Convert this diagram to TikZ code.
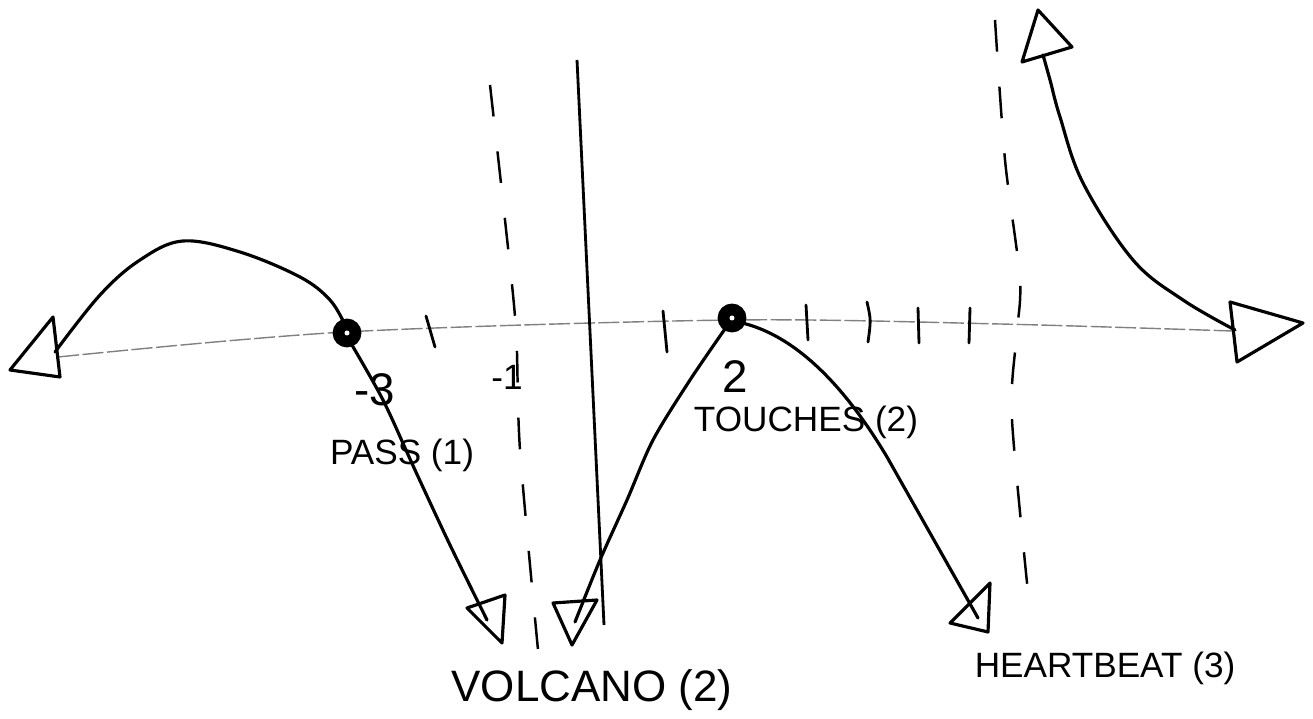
\documentclass[tikz,border=0pt]{standalone}
\usepackage{fontspec}
\setmainfont{Liberation Sans}
\begin{document}
\begin{tikzpicture}[x=0.01cm,y=-0.01cm,
  curve/.style={line width=0.9pt,line join=round,line cap=round},
  head/.style={line width=0.9pt,line join=round},
  asym/.style={line width=0.7pt,dash pattern=on 9pt off 10pt},
  axisline/.style={gray,line width=0.4pt,dash pattern=on 6pt off 1pt},
  tick/.style={line width=0.8pt,line cap=round},
  root/.style={circle,draw,fill=black,line width=1.2pt,inner sep=0pt,minimum size=7pt},
  lbl/.style={font=\fontsize{10}{12}\selectfont}]
\useasboundingbox (0,0) rectangle (1313,719);
% axis
\draw[axisline] plot[smooth] coordinates {(58,357) (345,332) (732,320) (1000,324) (1232,331)};
% ticks
\draw[tick] (426,316) -- (435,347);
\draw[tick] (663,311) -- (667,352);
\draw[tick] (806,305) -- (808,340);
\draw[tick] (867,302) .. controls (871,320) .. (868,342);
\draw[tick] (918,308) -- (919,343);
\draw[tick] (970,308) -- (969,343);
% asymptotes
\draw[asym] plot[smooth] coordinates {(490,85) (505,220) (516,330) (520,450) (538,650)};
\draw[asym] plot[smooth] coordinates {(995,20) (1005,160) (1020,280) (1016,340) (1012,420) (1030,612)};
% solid vertical line
\draw[line width=0.8pt] (577,60) -- (604,625);
% named points on the curves
\coordinate (c1a) at (55,352);
\coordinate (c1b) at (487,620);
\coordinate (c2a) at (575,622);
\coordinate (c2b) at (978,618);
\coordinate (c3a) at (1043,55);
\coordinate (c3b) at (1235,330);
% curve 1
\draw[curve] plot[smooth,tension=0.6] coordinates {(55,352) (100,295) (140,260) (183,241) (240,252) (300,277) (330,300) (345,325)};
\draw[curve] plot[smooth,tension=0.5] coordinates {(349,340) (383,400) (415,470) (450,545) (487,620)};
% curve 2
\draw[curve] plot[smooth,tension=0.5] coordinates {(575,622) (600,560) (627,500) (653,440) (690,380) (727,326)};
\draw[curve] (738,322) .. controls (800,335) and (850,395) .. (887,457) -- (c2b);
% curve 3
\draw[curve] plot[smooth,tension=0.6] coordinates {(1043,55) (1050,80) (1060,117) (1083,183) (1133,260) (1183,300) (1235,330)};
% roots
\node[root] (r1) at (347,333) {};
\node[root] (r2) at (732,318) {};
\fill[white] (r1) circle (2.5);
\fill[white] (r2) circle (2.5);
% arrowheads
\draw[head] (10,370) -- (53,317) -- (60,377) -- cycle;
\draw[head] (467,608) -- (505,595) -- (502,643) -- cycle;
\draw[head] (553,603) -- (597,600) -- (572,645) -- cycle;
\draw[head] (950,623) -- (990,583) -- (988,632) -- cycle;
\draw[head] (1022,62) -- (1038,10) -- (1072,47) -- cycle;
\draw[head] (1230,302) -- (1303,323) -- (1237,362) -- cycle;
% labels
\node[font=\fontsize{13}{15}\selectfont] (m3) at (375,390) {-3};
\node[lbl] (m1) at (507,377) {-1};
\node[font=\fontsize{13}{15}\selectfont] (p2) at (735,377) {2};
\node[lbl] (pass) at (402,455) {PASS (1)};
\node[lbl] (touch) at (806,422) {TOUCHES (2)};
\node[font=\fontsize{12.5}{15}\selectfont] (volc) at (592,690) {VOLCANO (2)};
\node[lbl] (heart) at (1105,668) {HEARTBEAT (3)};
\end{tikzpicture}
\end{document}
